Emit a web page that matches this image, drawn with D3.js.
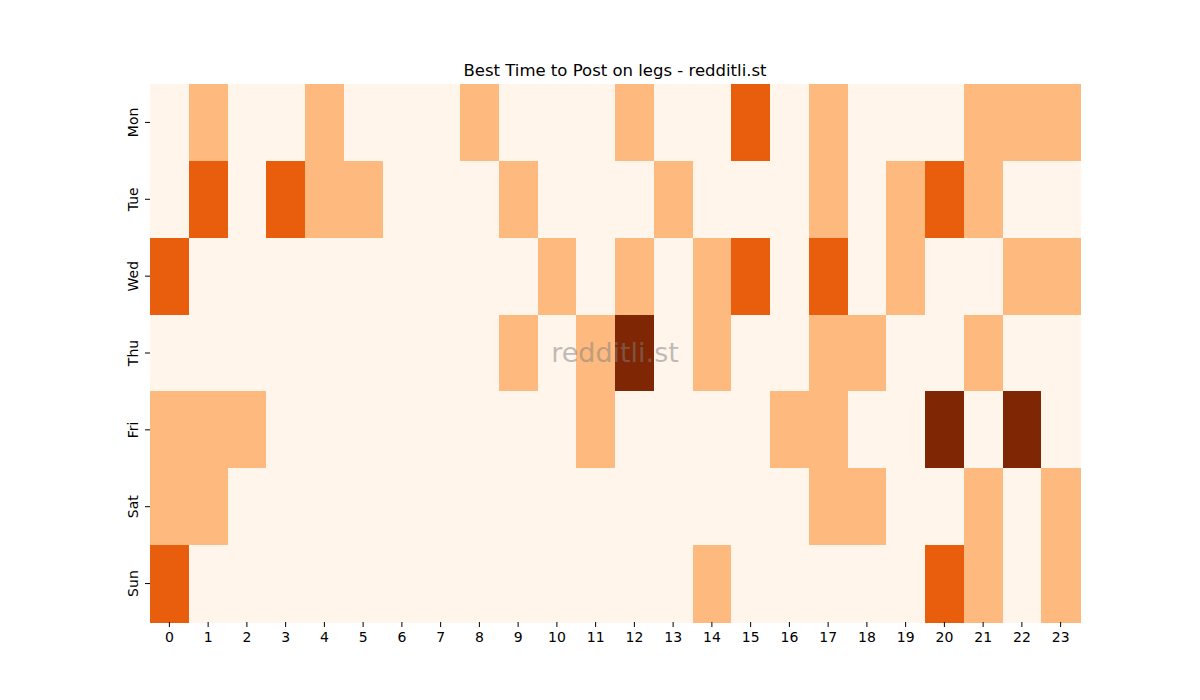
<!DOCTYPE html>
<html><head><meta charset="utf-8">
<script src="https://cdn.jsdelivr.net/npm/d3@7"></script>
<style>body{margin:0;background:#fff;} svg{display:block;font-family:"DejaVu Sans",sans-serif;}</style>
</head><body>
<svg id="c" width="1200" height="700"></svg>
<script>
const days = ["Mon","Tue","Wed","Thu","Fri","Sat","Sun"];
const hours = d3.range(24).map(String);
const mon = [0,1,0,0,1,0,0,0,1,0,0,0,1,0,0,2,0,1,0,0,0,1,1,1];
const tue = [0,2,0,2,1,1,0,0,0,1,0,0,0,1,0,0,0,1,0,1,2,1,0,0];
const wed = [2,0,0,0,0,0,0,0,0,0,1,0,1,0,1,2,0,2,0,1,0,0,1,1];
const thu = [0,0,0,0,0,0,0,0,0,1,0,1,3,0,1,0,0,1,1,0,0,1,0,0];
const fri = [1,1,1,0,0,0,0,0,0,0,0,1,0,0,0,0,1,1,0,0,3,0,3,0];
const sat = [1,1,0,0,0,0,0,0,0,0,0,0,0,0,0,0,0,1,1,0,0,1,0,1];
const sun = [2,0,0,0,0,0,0,0,0,0,0,0,0,0,1,0,0,0,0,0,2,1,0,1];
const rows = [mon,tue,wed,thu,fri,sat,sun];
const levelColors = ["#fff5eb","#fdb97e","#e95e0d","#7f2704"];

const svg = d3.select("#c");
const pL=150, pR=1080, pT=84, pB=622;
const x = d3.scaleBand().domain(hours).range([pL,pR]);
const y = d3.scaleBand().domain(days).range([pT,pB]);
const color = d3.scaleOrdinal().domain([0,1,2,3]).range(levelColors);

const cells = [];
rows.forEach((r,i)=>r.forEach((v,j)=>cells.push({day:days[i],hour:hours[j],v})));
svg.append("g").selectAll("rect").data(cells).join("rect")
  .attr("x",d=>x(d.hour)).attr("y",d=>y(d.day))
  .attr("width",x.bandwidth()+0.5).attr("height",y.bandwidth()+0.5)
  .attr("fill",d=>color(d.v)).attr("shape-rendering","crispEdges");

const xAxis = svg.append("g").attr("transform",`translate(0,${pB})`)
  .attr("font-size",14).attr("font-family","DejaVu Sans")
  .call(d3.axisBottom(x).tickSize(5).tickPadding(5));
xAxis.attr("font-size",14).attr("font-family","DejaVu Sans");
xAxis.select(".domain").remove();
xAxis.selectAll("text").style("font-size","14px").attr("fill","#000");
xAxis.selectAll("line").attr("stroke","#000");

const yAxis = svg.append("g").attr("transform",`translate(${pL},0)`)
  .call(d3.axisLeft(y).tickSize(5).tickPadding(4));
yAxis.attr("font-size",14).attr("font-family","DejaVu Sans");
yAxis.select(".domain").remove();
yAxis.selectAll("line").attr("stroke","#000");
yAxis.selectAll("text").style("font-size","14px").attr("fill","#000")
  .attr("x",null).attr("dy",null).attr("y",0).attr("text-anchor","middle")
  .attr("transform","translate(-12,0) rotate(-90)");

svg.append("text").attr("x",(pL+pR)/2).attr("y",76).attr("text-anchor","middle")
  .attr("font-size","16.5px").attr("fill","#000").text("Best Time to Post on legs - redditli.st");

svg.append("text").attr("x",(pL+pR)/2).attr("y",362).attr("text-anchor","middle")
  .attr("font-size","27px").attr("fill","#808080").attr("fill-opacity",0.5).text("redditli.st");
</script>
</body></html>
